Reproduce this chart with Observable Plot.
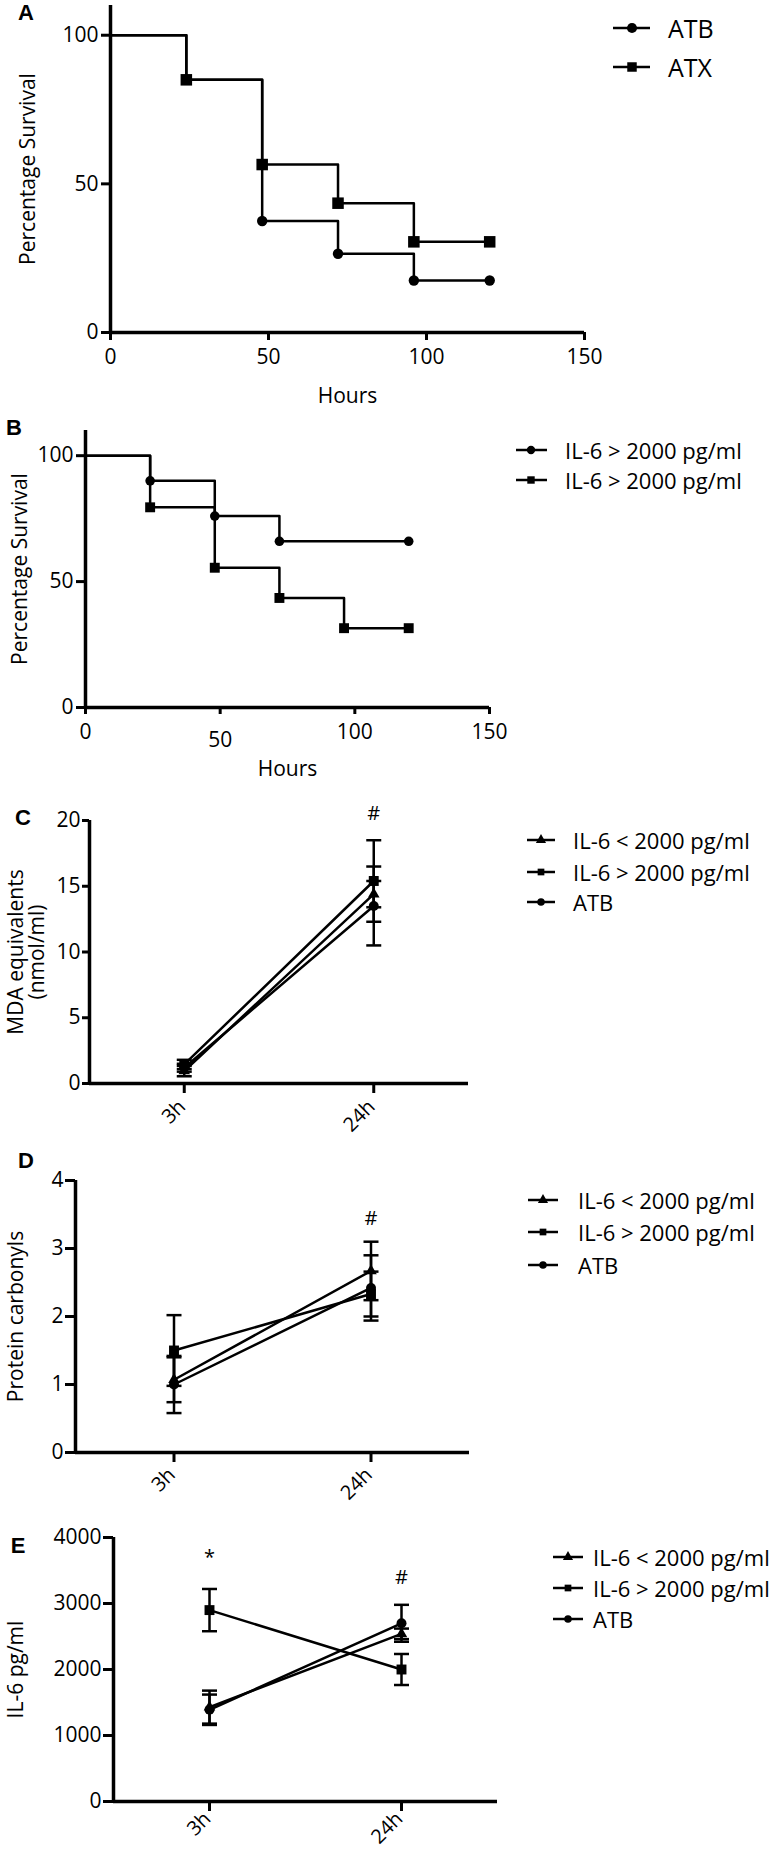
<!DOCTYPE html>
<html><head><meta charset="utf-8">
<script src="https://cdn.jsdelivr.net/npm/d3@7"></script>
<script src="https://cdn.jsdelivr.net/npm/@observablehq/plot@0.6"></script>
<style>
body{margin:0;background:#fff;}
#page{position:relative;width:771px;height:1850px;font-family:"Open Sans",sans-serif;color:#000;overflow:hidden;background:#fff}
.panel{position:absolute;left:0}
.letter{position:absolute;font-weight:700;font-size:22px;line-height:1;font-family:"Liberation Sans",Arial,sans-serif;transform:translate(-50%,-50%)}
.ltext{position:absolute;line-height:1;white-space:nowrap;transform:translateY(-50%);font-family:"Open Sans",sans-serif}
</style></head><body><div id="page"></div>
<script>
// ---------------- DATA ----------------
// Panel A: Kaplan-Meier survival
const hoursA = [0, 24, 48, 72, 96, 120];
const survA_ATB = [100, 85, 37.5, 26.5, 17.5, 17.5];
const survA_ATX = [100, 85, 56.5, 43.5, 30.5, 30.5];
const seriesA = ["ATB", "ATX"];
// Panel B
const hoursB_1 = [0, 24, 48, 72, 120];
const survB_1 = [100, 90, 76, 66, 66];
const hoursB_2 = [0, 24, 48, 72, 96, 120];
const survB_2 = [100, 79.5, 55.5, 43.5, 31.5, 31.5];
const seriesB = ["IL-6 > 2000 pg/ml", "IL-6 > 2000 pg/ml"];
const survTicks = [0, 50, 100];
const hourTicks = [0, 50, 100, 150];

// Panels C-E
const timepoints = ["3h", "24h"];
const groups = ["IL-6 < 2000 pg/ml", "IL-6 > 2000 pg/ml", "ATB"];
const groupSymbols = ["triangle", "square", "circle"];
// C: MDA equivalents (nmol/ml)
const mdaLow = [0.95, 14.4], mdaLowErr = [0.4, 1.0];
const mdaHigh = [1.45, 15.4], mdaHighErr = [0.35, 3.1];
const mdaATB = [1.2, 13.5], mdaATBErr = [0.3, 3.0];
const mdaTicks = [0, 5, 10, 15, 20];
// D: Protein carbonyls
const pcLow = [1.07, 2.67], pcLowErr = [0.33, 0.43];
const pcHigh = [1.5, 2.33], pcHighErr = [0.52, 0.33];
const pcATB = [1.0, 2.42], pcATBErr = [0.42, 0.48];
const pcTicks = [0, 1, 2, 3, 4];
// E: IL-6 pg/ml
const il6Low = [1430, 2540], il6LowErr = [250, 80];
const il6High = [2900, 2000], il6HighErr = [320, 235];
const il6ATB = [1390, 2700], il6ATBErr = [230, 280];
const il6Ticks = [0, 1000, 2000, 3000, 4000];
// significance annotations
const annC = {time: ["24h"], y: [20.5], text: ["#"]};
const annD = {time: ["24h"], y: [3.44], text: ["#"]};
const annE = {time: ["3h", "24h"], y: [3690, 3390], text: ["*", "#"]};

// ---------------- HELPERS ----------------
const FONT = "Open Sans";
const page = document.getElementById("page");
const capSymbol = {draw(ctx, size) { const r = Math.sqrt(size / Math.PI); ctx.moveTo(-r, 0); ctx.lineTo(r, 0); }};
const timeDomain = [-0.5, 1.5];
const symMap = {circle: d3.symbolCircle, square: d3.symbolSquare, triangle: d3.symbolTriangle};
const plain = d => String(d);

function place(node, top) {
  const w = document.createElement("div");
  w.className = "panel"; w.style.top = top + "px";
  w.appendChild(node); page.appendChild(w);
}
function letter(txt, cx, cy) {
  const d = document.createElement("div"); d.className = "letter"; d.textContent = txt;
  d.style.left = cx + "px"; d.style.top = cy + "px"; page.appendChild(d);
}
function addLegend(labels, symbols, cfg) {
  labels.forEach((lab, i) => {
    const cy = cfg.rows[i];
    const w = cfg.x2 - cfg.x1 + 4;
    const svg = d3.create("svg").attr("width", w).attr("height", 24)
      .style("position", "absolute").style("left", (cfg.x1 - 2) + "px").style("top", (cy - 12) + "px");
    svg.append("line").attr("x1", 2).attr("x2", w - 2).attr("y1", 12).attr("y2", 12)
      .attr("stroke", "#000").attr("stroke-width", cfg.sw || 2.5);
    svg.append("path").attr("transform", `translate(${cfg.mx - cfg.x1 + 2},12)`)
      .attr("d", d3.symbol(symMap[symbols[i]], cfg.area[symbols[i]])()).attr("fill", "#000");
    page.appendChild(svg.node());
    const t = document.createElement("div"); t.className = "ltext"; t.textContent = lab;
    t.style.left = cfg.tx + "px"; t.style.top = cy + "px"; t.style.fontSize = cfg.fs + "px";
    page.appendChild(t);
  });
}
const rowsOf = (series, xs, ys) => xs.map((x, i) => ({series, x, y: ys[i]}));
const timeRows = (group, m, e) => timepoints.map((t, i) => ({group, t: i, mean: m[i], lo: m[i] - e[i], hi: m[i] + e[i]}));
const annRows = (a) => a.time.map((t, i) => ({t: timepoints.indexOf(t), y: a.y[i], text: a.text[i]}));
const tickRows = timepoints.map((label, i) => ({t: i, label}));
const baseStyle = {fontFamily: FONT, fontSize: "21px", color: "#000", background: "none", overflow: "visible"};

// ---------------- PANEL A ----------------
const rowsA = [...rowsOf(seriesA[0], hoursA, survA_ATB), ...rowsOf(seriesA[1], hoursA, survA_ATX)];
place(Plot.plot({
  width: 620, height: 410, marginLeft: 110, marginRight: 36, marginTop: 5, marginBottom: 78,
  style: baseStyle,
  x: {domain: [0, 150]}, y: {domain: [0, 110]},
  marks: [
    Plot.ruleY([0], {strokeWidth: 3.5}),
    Plot.ruleX([0], {strokeWidth: 3.5}),
    Plot.axisX({ticks: hourTicks, tickFormat: plain, tickSize: 8, tickPadding: 9, strokeWidth: 3, fontSize: 21, label: "Hours", labelArrow: "none", labelAnchor: "center", labelOffset: 70}),
    Plot.axisY({ticks: survTicks, tickFormat: plain, tickSize: 9, tickPadding: 3, strokeWidth: 3, fontSize: 21, label: "Percentage Survival", labelArrow: "none", labelAnchor: "center", labelOffset: 90}),
    Plot.line(rowsA, {x: "x", y: "y", z: "series", curve: "step-after", strokeWidth: 2.5}),
    Plot.dot(rowsA.filter(d => d.x > 0 && d.series === seriesA[0]), {x: "x", y: "y", symbol: "circle", r: 5.2, fill: "#000"}),
    Plot.dot(rowsA.filter(d => d.x > 0 && d.series === seriesA[1]), {x: "x", y: "y", symbol: "square", r: 6.5, fill: "#000"})
  ]
}), 0);
letter("A", 26, 13);
addLegend(seriesA, ["circle", "square"], {x1: 613, x2: 650, mx: 632, rows: [28, 67], tx: 668, fs: 25, area: {circle: 80, square: 90}});

// ---------------- PANEL B ----------------
const rowsB = [...rowsOf("b1", hoursB_1, survB_1), ...rowsOf("b2", hoursB_2, survB_2)];
place(Plot.plot({
  width: 520, height: 370, marginLeft: 85, marginRight: 31, marginTop: 20, marginBottom: 73,
  style: baseStyle,
  x: {domain: [0, 150]}, y: {domain: [0, 110]},
  marks: [
    Plot.ruleY([0], {strokeWidth: 3.5}),
    Plot.ruleX([0], {strokeWidth: 3.5}),
    Plot.axisX({ticks: hourTicks.filter(t => t !== 50), tickFormat: plain, tickSize: 7, tickPadding: 10, strokeWidth: 3, fontSize: 21, label: "Hours", labelArrow: "none", labelAnchor: "center", labelOffset: 68}),
    Plot.axisX({ticks: [50], tickFormat: plain, tickSize: 7, tickPadding: 18, strokeWidth: 3, fontSize: 21, label: null}),
    Plot.axisY({ticks: survTicks, tickFormat: plain, tickSize: 9, tickPadding: 3, strokeWidth: 3, fontSize: 21, label: "Percentage Survival", labelArrow: "none", labelAnchor: "center", labelOffset: 73}),
    Plot.line(rowsB, {x: "x", y: "y", z: "series", curve: "step-after", strokeWidth: 2.5}),
    Plot.dot(rowsB.filter(d => d.x > 0 && d.series === "b1"), {x: "x", y: "y", symbol: "circle", r: 4.8, fill: "#000"}),
    Plot.dot(rowsB.filter(d => d.x > 0 && d.series === "b2"), {x: "x", y: "y", symbol: "square", r: 5.6, fill: "#000"})
  ]
}), 410);
letter("B", 14, 428);
addLegend(seriesB, ["circle", "square"], {x1: 516, x2: 547, mx: 531, rows: [450, 480], tx: 565, fs: 22, area: {circle: 55, square: 55}});

// ---------------- PANELS C-E ----------------
function timePanel({top, width, marginLeft, marginRight, marginTop, marginBottom, height, yDomain, yTicks, yLabel, labelOffset, ytickSize, tickDy, series, ann}) {
  const rows = series.flatMap(s => timeRows(s.group, s.m, s.e));
  const marks = [
    Plot.ruleY([yDomain[0]], {strokeWidth: 3.5}),
    Plot.ruleX([timeDomain[0]], {strokeWidth: 3.5}),
    Plot.axisX({ticks: [0, 1], tickFormat: () => "", tickSize: 10, tickPadding: 4, strokeWidth: 3, fontSize: 20, label: null}),
    Plot.text(tickRows, {x: "t", text: "label", frameAnchor: "bottom", rotate: -45, textAnchor: "end", lineAnchor: "middle", dx: -2, dy: tickDy, fontSize: 20}),
    Plot.axisY({ticks: yTicks, tickFormat: plain, tickSize: ytickSize, tickPadding: 2, strokeWidth: 3, fontSize: 21, label: yLabel, labelArrow: "none", labelAnchor: "center", labelOffset}),
    Plot.line(rows, {x: "t", y: "mean", z: "group", strokeWidth: 2.5}),
    Plot.ruleX(rows, {x: "t", y1: "lo", y2: "hi", strokeWidth: 2.5}),
    Plot.dot(rows, {x: "t", y: "hi", symbol: capSymbol, r: 7.5, stroke: "#000", strokeWidth: 2.5}),
    Plot.dot(rows, {x: "t", y: "lo", symbol: capSymbol, r: 7.5, stroke: "#000", strokeWidth: 2.5}),
    ...series.map((s, k) => Plot.dot(rows.filter(d => d.group === s.group), {x: "t", y: "mean", symbol: groupSymbols[k], r: groupSymbols[k] === "triangle" ? 4.3 : groupSymbols[k] === "square" ? 5.6 : 5, fill: "#000"})),
    Plot.text(annRows(ann), {x: "t", y: "y", text: "text", fontSize: 20, lineAnchor: "middle"})
  ];
  place(Plot.plot({width, height, marginLeft, marginRight, marginTop, marginBottom, style: baseStyle,
    x: {domain: timeDomain}, y: {domain: yDomain}, marks}), top);
}

timePanel({top: 790, width: 500, height: 350, marginLeft: 89, marginRight: 32, marginTop: 30, marginBottom: 57,
  yDomain: [0, 20], yTicks: mdaTicks, yLabel: "MDA equivalents\n(nmol/ml)", labelOffset: 81, ytickSize: 7, tickDy: 20,
  series: [{group: groups[0], m: mdaLow, e: mdaLowErr}, {group: groups[1], m: mdaHigh, e: mdaHighErr}, {group: groups[2], m: mdaATB, e: mdaATBErr}],
  ann: annC});
letter("C", 23, 818);
addLegend(groups, groupSymbols, {x1: 527, x2: 555, mx: 541, rows: [840, 872, 902], tx: 573, fs: 22, area: {circle: 45, square: 45, triangle: 45}});

timePanel({top: 1150, width: 500, height: 350, marginLeft: 75, marginRight: 31, marginTop: 30, marginBottom: 48,
  yDomain: [0, 4], yTicks: pcTicks, yLabel: "Protein carbonyls", labelOffset: 67, ytickSize: 10, tickDy: 19,
  series: [{group: groups[0], m: pcLow, e: pcLowErr}, {group: groups[1], m: pcHigh, e: pcHighErr}, {group: groups[2], m: pcATB, e: pcATBErr}],
  ann: annD});
letter("D", 26, 1161);
addLegend(groups, groupSymbols, {x1: 528, x2: 558, mx: 543, rows: [1200, 1232, 1265], tx: 578, fs: 22, area: {circle: 45, square: 45, triangle: 45}});

timePanel({top: 1510, width: 530, height: 340, marginLeft: 113, marginRight: 33, marginTop: 27, marginBottom: 49,
  yDomain: [0, 4000], yTicks: il6Ticks, yLabel: "IL-6 pg/ml", labelOffset: 105, ytickSize: 10, tickDy: 14,
  series: [{group: groups[0], m: il6Low, e: il6LowErr}, {group: groups[1], m: il6High, e: il6HighErr}, {group: groups[2], m: il6ATB, e: il6ATBErr}],
  ann: annE});
letter("E", 18, 1546);
addLegend(groups, groupSymbols, {x1: 553, x2: 583, mx: 568, rows: [1557, 1588, 1619], tx: 593, fs: 22, area: {circle: 45, square: 45, triangle: 45}});
</script></body></html>
